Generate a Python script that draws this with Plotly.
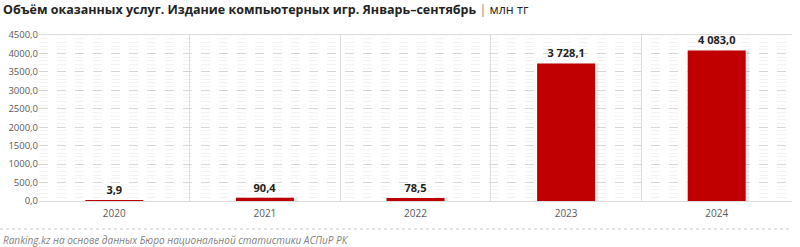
import plotly.graph_objects as go

years = ["2020", "2021", "2022", "2023", "2024"]
values = [3.9, 90.4, 78.5, 3728.1, 4083.0]
tick_vals = [0, 500, 1000, 1500, 2000, 2500, 3000, 3500, 4000, 4500]
title_main = "Объём оказанных услуг. Издание компьютерных игр. Январь–сентябрь"
title_unit = "млн тг"
source = "Ranking.kz на основе данных Бюро национальной статистики АСПиР РК"


def fmt(v, sep=" "):
    s = f"{v:,.1f}".replace(",", "\u00a0" if sep else "").replace(".", ",")
    return s


labels = [fmt(v) for v in values]
tick_text = [fmt(v, sep="") for v in tick_vals]

W, H = 800, 247
ml, mr, mt, mb = 39, 8, 35, 46
plot_h = H - mt - mb

fig = go.Figure()
# subtle shadow
fig.add_trace(go.Bar(
    x=years, y=values, marker=dict(color="rgba(0,0,0,0.08)", line_width=0),
    width=0.40, offset=-0.185, hoverinfo="skip", showlegend=False,
))
fig.add_trace(go.Bar(
    x=years, y=values, marker=dict(color="#c00000", line_width=0),
    width=0.385, offset=-0.1925,
    text=labels, textposition="outside", cliponaxis=False,
    textfont=dict(family="Open Sans", size=11, color="#222222", weight="bold"),
    showlegend=False,
))

fig.update_layout(
    width=W, height=H,
    margin=dict(l=ml, r=mr, t=mt, b=mb),
    paper_bgcolor="white", plot_bgcolor="white",
    barmode="overlay",
    font=dict(family="Open Sans", size=10, color="#595959"),
    showlegend=False,
)
fig.update_xaxes(
    type="category", tickson="boundaries", showgrid=True,
    gridcolor="#dcdcdc", gridwidth=1, ticks="", showline=True,
    linecolor="#dcdcdc", mirror=True, ticklabelstandoff=3,
    tickfont=dict(size=10, color="#595959"),
)
fig.update_yaxes(
    range=[0, 4500], tickvals=tick_vals, ticktext=tick_text,
    showgrid=True, gridcolor="#d6d6d6", griddash="dash", gridwidth=1,
    zeroline=False, showline=False, ticks="",
    tickfont=dict(size=9.5, color="#595959"),
    minor=dict(dtick=100, showgrid=True, gridcolor="#f3f3f3", gridwidth=1),
)

# title
fig.add_annotation(
    xref="paper", yref="paper", x=-(ml - 1) / (W - ml - mr), y=1 + (mt - 10) / plot_h,
    xanchor="left", yanchor="middle", showarrow=False,
    text=f"<b>{title_main}</b> <span style='color:#888'>|</span> {title_unit}",
    font=dict(family="Open Sans", size=12.5, color="#222222"),
)
# source
fig.add_annotation(
    xref="paper", yref="paper", x=-(ml - 1) / (W - ml - mr), y=-(240 - (H - mb)) / plot_h,
    xanchor="left", yanchor="middle", showarrow=False,
    text=f"<i>{source}</i>",
    font=dict(family="Open Sans", size=10, color="#7f7f7f"),
)
# dashed separator
sep_y = -(229 - (H - mb)) / plot_h
fig.add_shape(type="line", xref="paper", yref="paper",
              x0=-ml / (W - ml - mr), x1=1.0, y0=sep_y, y1=sep_y,
              line=dict(color="#c8c8c8", width=1, dash="dot"))

fig.write_html("out.html")
